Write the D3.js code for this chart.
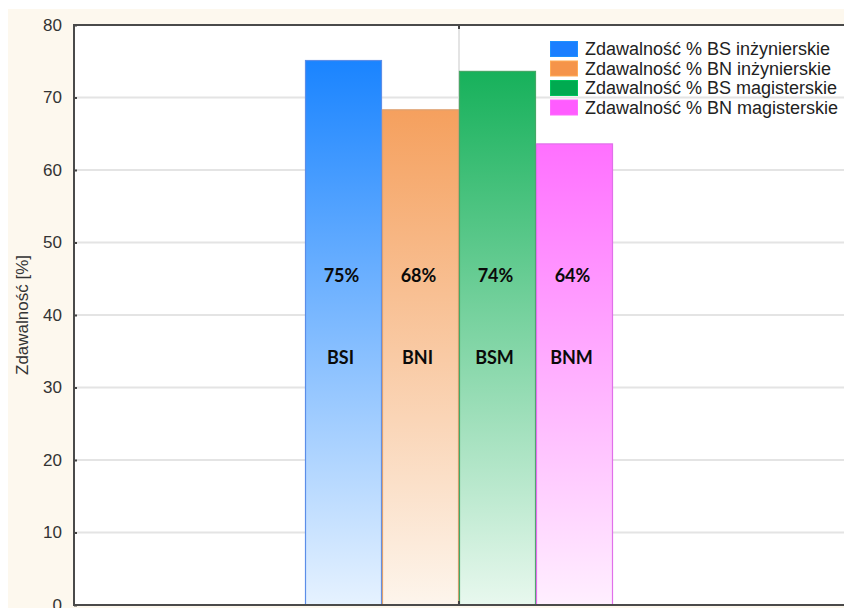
<!DOCTYPE html>
<html>
<head>
<meta charset="utf-8">
<script src="https://cdn.jsdelivr.net/npm/d3@7"></script>
<style>
  html, body { margin: 0; padding: 0; background: #ffffff; }
  svg { display: block; }
</style>
</head>
<body>
<svg id="chart" width="844" height="608"></svg>
<script>
// ---- data ----
const categories = ["BSI", "BNI", "BSM", "BNM"];
const seriesNames = [
  "Zdawalność % BS inżynierskie",
  "Zdawalność % BN inżynierskie",
  "Zdawalność % BS magisterskie",
  "Zdawalność % BN magisterskie"
];
const values = [75.1, 68.3, 73.6, 63.6];
const valueLabels = ["75%", "68%", "74%", "64%"];
const yTicks = [0, 10, 20, 30, 40, 50, 60, 70, 80];
const yTitle = "Zdawalność [%]";

// ---- styles ----
const topColors = ["#1a84ff", "#f5a05e", "#17b15b", "#ff70ff"];
const bottomColors = ["#e6f2ff", "#fdf5ec", "#e8f8ee", "#ffefff"];
const strokeColors = ["#5b8ee8", "#dda070", "#45a866", "#e070ea"];
const swatchColors = ["#1a7fff", "#f5944a", "#00aa50", "#ff5cff"];

const svg = d3.select("#chart");
const W = 844, H = 608;
const plot = { left: 74, right: 844, top: 25, bottom: 605 };

// cream background panel
svg.append("rect").attr("x", 8).attr("y", 9).attr("width", W - 8).attr("height", H - 9).attr("fill", "#fdf8ee");
svg.append("rect").attr("x", plot.left).attr("y", plot.top)
  .attr("width", plot.right - plot.left).attr("height", plot.bottom - plot.top).attr("fill", "#ffffff");

const y = d3.scaleLinear().domain([0, 80]).range([plot.bottom, plot.top]);
const xOuter = d3.scaleBand().domain(["g"]).range([plot.left, plot.right]);
const center = xOuter("g") + xOuter.bandwidth() / 2;
const groupW = 308;
const x = d3.scaleBand().domain(categories).range([center - groupW / 2, center + groupW / 2]).padding(0);

// gradients
const defs = svg.append("defs");
categories.forEach((c, i) => {
  const g = defs.append("linearGradient").attr("id", "grad" + i)
    .attr("x1", 0).attr("y1", 0).attr("x2", 0).attr("y2", 1);
  g.append("stop").attr("offset", "0%").attr("stop-color", topColors[i]);
  g.append("stop").attr("offset", "100%").attr("stop-color", bottomColors[i]);
});

// grid lines
svg.append("g").selectAll("line").data(yTicks.filter(t => t > 0 && t < 80)).join("line")
  .attr("x1", plot.left).attr("x2", plot.right)
  .attr("y1", d => y(d)).attr("y2", d => y(d))
  .attr("stroke", "#e4e4e4").attr("stroke-width", 2);
svg.append("line").attr("x1", center).attr("x2", center)
  .attr("y1", plot.top).attr("y2", plot.bottom)
  .attr("stroke", "#e4e4e4").attr("stroke-width", 2);

// bars
svg.append("g").selectAll("rect").data(values).join("rect")
  .attr("x", (d, i) => x(categories[i]) + 0.5)
  .attr("y", d => y(d))
  .attr("width", x.bandwidth() - 1)
  .attr("height", d => y(0) - y(d))
  .attr("fill", (d, i) => "url(#grad" + i + ")")
  .attr("stroke", (d, i) => strokeColors[i])
  .attr("stroke-width", 1.2);

// bar labels
const lblFont = "Lato, 'Liberation Sans', sans-serif";
svg.append("g").selectAll("text").data(valueLabels).join("text")
  .attr("x", (d, i) => x(categories[i]) + x.bandwidth() / 2 - 2)
  .attr("y", y(44.6))
  .attr("text-anchor", "middle")
  .attr("font-family", lblFont).attr("font-weight", "bold").attr("font-size", 18)
  .attr("fill", "#0a0a0a")
  .text(d => d);
svg.append("g").selectAll("text").data(categories).join("text")
  .attr("x", (d, i) => x(d) + x.bandwidth() / 2 - 3)
  .attr("y", y(33.2))
  .attr("text-anchor", "middle")
  .attr("font-family", lblFont).attr("font-weight", "bold").attr("font-size", 18)
  .attr("fill", "#0a0a0a")
  .text(d => d);

// axes
const font = "'Liberation Sans', Arial, sans-serif";
const yAxis = d3.axisLeft(y).tickValues(yTicks).tickSize(-3).tickPadding(12).tickFormat(d3.format("d"));
const gy = svg.append("g").attr("transform", `translate(${plot.left},0)`).call(yAxis);
gy.select(".domain").remove();
gy.selectAll(".tick line").attr("stroke", "#444").attr("stroke-width", 2);
gy.selectAll(".tick text").attr("font-family", font).attr("font-size", 17).attr("fill", "#333");

const xAxisB = d3.axisBottom(xOuter).tickSize(-4).tickFormat("");
const gxb = svg.append("g").attr("transform", `translate(0,${plot.bottom})`).call(xAxisB);
gxb.select(".domain").remove();
gxb.selectAll(".tick line").attr("stroke", "#444").attr("stroke-width", 2);
const xAxisT = d3.axisTop(xOuter).tickSize(-4).tickFormat("");
const gxt = svg.append("g").attr("transform", `translate(0,${plot.top})`).call(xAxisT);
gxt.select(".domain").remove();
gxt.selectAll(".tick line").attr("stroke", "#444").attr("stroke-width", 2);

// frame lines
svg.append("line").attr("x1", plot.left).attr("x2", plot.left).attr("y1", plot.top - 1).attr("y2", plot.bottom + 1)
  .attr("stroke", "#4a4a4a").attr("stroke-width", 2);
svg.append("line").attr("x1", plot.left - 1).attr("x2", plot.right).attr("y1", plot.top).attr("y2", plot.top)
  .attr("stroke", "#4a4a4a").attr("stroke-width", 2);
svg.append("line").attr("x1", plot.left - 1).attr("x2", plot.right).attr("y1", plot.bottom).attr("y2", plot.bottom)
  .attr("stroke", "#4a4a4a").attr("stroke-width", 2);

// y title
svg.append("text")
  .attr("transform", `translate(28,${(plot.top + plot.bottom) / 2}) rotate(-90)`)
  .attr("text-anchor", "middle")
  .attr("font-family", font).attr("font-size", 17).attr("fill", "#333")
  .text(yTitle);

// legend
const leg = svg.append("g").attr("transform", "translate(550,41)");
const rows = leg.selectAll("g").data(seriesNames).join("g")
  .attr("transform", (d, i) => `translate(0,${i * 19.5})`);
rows.append("rect").attr("x", 0.5).attr("y", 0.5).attr("width", 27).attr("height", 15)
  .attr("fill", (d, i) => swatchColors[i]).attr("stroke", (d, i) => d3.color(swatchColors[i]).brighter(0.4)).attr("stroke-width", 1);
rows.append("text").attr("x", 35).attr("y", 14)
  .attr("font-family", font).attr("font-size", 18).attr("fill", "#222")
  .text(d => d);
</script>
</body>
</html>
